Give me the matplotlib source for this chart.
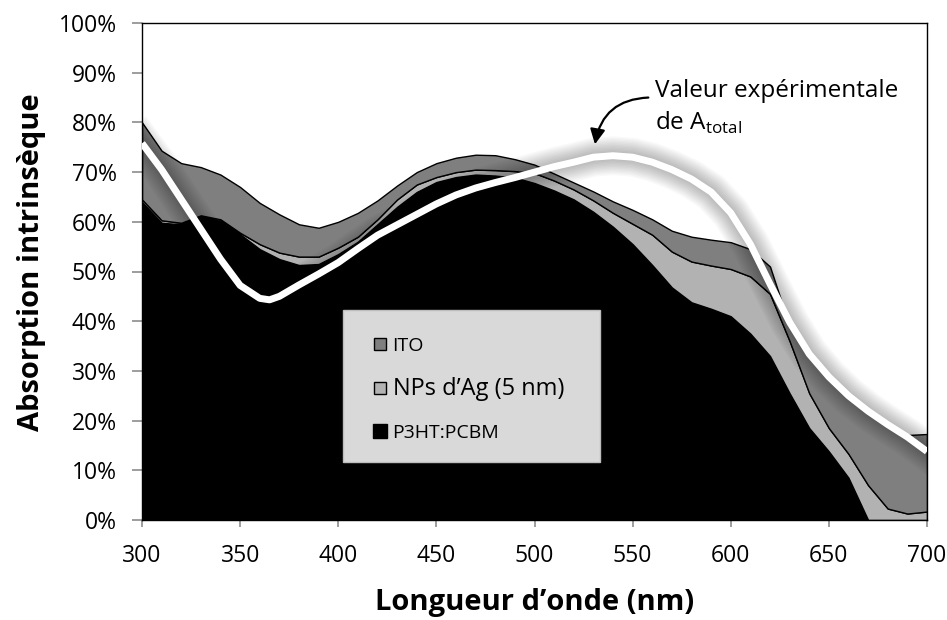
import matplotlib
matplotlib.use('Agg')
import matplotlib.pyplot as plt
import numpy as np
from matplotlib.lines import Line2D
from matplotlib.patches import Rectangle

plt.rcParams['font.family'] = ['Open Sans', 'DejaVu Sans']
plt.rcParams['mathtext.fontset'] = 'custom'
plt.rcParams['mathtext.rm'] = 'Open Sans'

# wavelength grid of the stacked layers (nm)
wavelength = np.arange(300, 701, 10)

# cumulative tops of the stacked areas (%)
top_p3ht = [64.0, 59.8, 59.5, 61.0, 60.2, 57.5, 54.5, 52.5, 51.3, 51.5,
            53.5, 56.0, 59.5, 63.0, 66.0, 68.0, 69.0, 69.5, 69.3, 68.9,
            67.8, 66.3, 64.5, 62.0, 59.0, 55.5, 51.3, 46.8, 43.8, 42.5,
            41.0, 37.5, 33.0, 25.5, 18.5, 13.8, 8.5, 0.0, 0.0, 0.0, 0.0]
top_nps = [64.5, 60.3, 59.8, 61.3, 60.5, 57.8, 55.5, 53.8, 53.0, 53.0,
           54.8, 57.0, 60.5, 64.5, 67.5, 69.0, 70.0, 70.5, 70.4, 70.2,
           69.8, 68.3, 66.5, 64.3, 61.8, 59.6, 57.4, 54.0, 52.0, 51.2,
           50.5, 49.0, 45.5, 36.0, 25.5, 18.5, 13.3, 7.0, 2.3, 1.3, 1.7]
top_ito = [80.0, 74.3, 71.8, 71.0, 69.5, 67.0, 63.8, 61.5, 59.5, 58.8,
           60.0, 61.8, 64.3, 67.3, 70.0, 71.8, 72.9, 73.5, 73.4, 72.6,
           71.5, 69.7, 67.9, 66.1, 64.1, 62.4, 60.5, 58.2, 57.0, 56.4,
           55.9, 54.5, 51.0, 39.0, 32.8, 28.3, 24.5, 21.4, 18.8, 17.1, 17.3]

# experimental total absorption (white curve)
wl_exp = [300, 310, 320, 330, 340, 350, 360, 365, 370, 380, 390, 400, 410,
          420, 430, 440, 450, 460, 470, 480, 490, 500, 510, 520, 530, 540,
          550, 560, 570, 580, 590, 600, 610, 620, 630, 640, 650, 660, 670,
          680, 690, 700]
a_exp = [75.8, 70.5, 64.5, 58.5, 52.5, 47.2, 44.6, 44.3, 45.0, 47.3, 49.5,
         51.8, 54.6, 57.3, 59.4, 61.5, 63.6, 65.4, 66.8, 67.9, 68.9, 70.0,
         71.1, 72.0, 73.0, 73.3, 73.0, 72.0, 70.5, 68.6, 66.0, 61.8, 55.5,
         47.5, 39.8, 33.4, 28.8, 25.0, 21.9, 19.2, 16.7, 13.8]

labels = ['P3HT:PCBM', 'NPs d\u2019Ag (5 nm)', 'ITO']
colors = ['#000000', '#b2b2b2', '#7f7f7f']

# layer contributions
p3ht = np.array(top_p3ht)
nps = np.array(top_nps) - p3ht
ito = np.array(top_ito) - np.array(top_nps)

fig = plt.figure(figsize=(9.47, 6.2), dpi=100)
ax = fig.add_axes([142 / 947, 100 / 620, 785 / 947, 497 / 620])

ax.stackplot(wavelength, p3ht, nps, ito, colors=colors,
             edgecolor='black', linewidth=1.0, zorder=1)

# soft shadow under the experimental curve
for w in range(6, 30, 2):
    ax.plot(wl_exp, a_exp, color='black', lw=w, alpha=0.022,
            solid_joinstyle='round', zorder=2)
ax.plot(wl_exp, a_exp, color='white', lw=5.0, solid_joinstyle='round',
        solid_capstyle='butt', zorder=3)

ax.set_xlim(300, 700)
ax.set_ylim(0, 100)
ax.set_xticks(range(300, 701, 50))
ax.set_yticks(range(0, 101, 10))
ax.set_yticklabels([f'{v}%' for v in range(0, 101, 10)])
ax.tick_params(axis='both', labelsize=16.5, color='#8c8c8c', width=1.2)
ax.tick_params(axis='x', length=5, pad=12)
ax.tick_params(axis='y', length=7, pad=11)
for s in ax.spines.values():
    s.set_color('black')
    s.set_linewidth(1.0)

ax.set_xlabel('Longueur d\u2019onde (nm)', fontsize=21, fontweight='bold')
ax.xaxis.label.set_va('baseline')
ax.xaxis.set_label_coords(0.5, (520 - 610) / 497)
ax.set_ylabel('Absorption intrins\u00e8que', fontsize=21, fontweight='bold')
ax.yaxis.label.set_va('center')
ax.yaxis.set_label_coords((32 - 142) / 785, 0.519)

# annotation
ax.annotate('', xy=(530.8, 75.6), xytext=(558.0, 85.0),
            arrowprops=dict(arrowstyle='-|>,head_length=0.9,head_width=0.45',
                            color='black', lw=1.6, shrinkA=0, shrinkB=0,
                            connectionstyle='arc3,rad=0.4'), zorder=5)
ax.text(561.5, 86.4, 'Valeur exp\u00e9rimentale', fontsize=17.5,
        va='center', ha='left', zorder=5)
ax.text(561.5, 80.0, 'de A$_{\\mathrm{total}}$', fontsize=17.5,
        va='center', ha='left', zorder=5)

# legend box
ax.add_patch(Rectangle((0.256, 0.117), 0.327, 0.306, transform=ax.transAxes,
                       facecolor='#d9d9d9', edgecolor='#bdbdbd', lw=1,
                       zorder=6))
handles = [Line2D([], [], ls='none', marker='s', markersize=s,
                  markerfacecolor=c, markeredgecolor='black', markeredgewidth=1)
           for c, s in zip(colors[::-1], [9, 8.5, 10])]
leg = ax.legend(handles, labels[::-1], loc='upper left',
                bbox_to_anchor=(0.282, 0.388), frameon=False, fontsize=14,
                handlelength=0.7, handletextpad=0.3, labelspacing=1.15,
                borderpad=0)
leg.set_zorder(7)
leg.get_texts()[1].set_fontsize(17)

fig.savefig('out.png', dpi=100)
